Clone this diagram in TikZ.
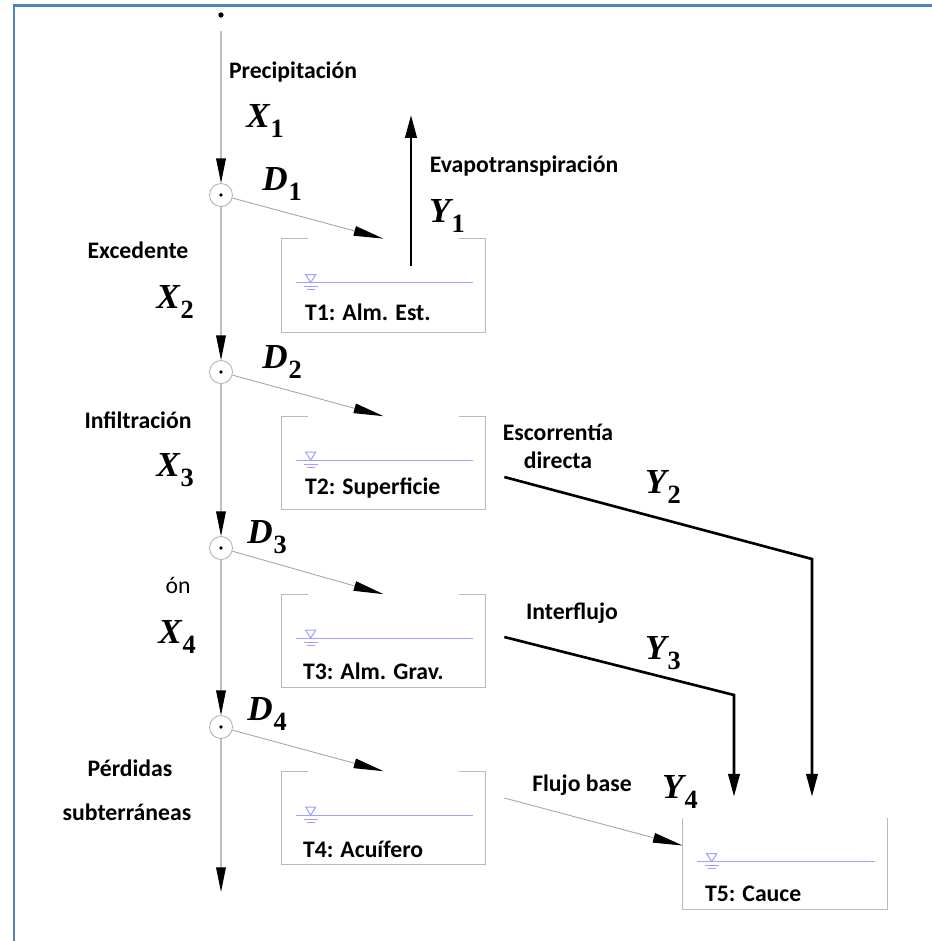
\documentclass[tikz,border=0pt]{standalone}
\usepackage{amsmath,amssymb}
\usepackage[no-math]{fontspec}
\setmainfont{Carlito}
\newfontfamily\varfont{Liberation Serif}
\usetikzlibrary{positioning,arrows.meta}
\definecolor{marco}{RGB}{79,129,189}
\definecolor{agua}{RGB}{160,160,255}

% variable con subindice
\newcommand{\vr}[2]{{\varfont\bfseries\itshape #1}\kern0.5pt\raisebox{-0.28em}{\varfont\bfseries\fontsize{15}{15}\selectfont #2}}

% tanque abierto: paredes, nivel de agua y simbolo
\newcommand{\tanque}[2][26]{%
  \draw[pared] ([shift={(#1,0)}]#2.north west) -- (#2.north west) -- (#2.south west)
    -- (#2.south east) -- (#2.north east) -- ([shift={(-#1,0)}]#2.north east);
  \draw[nivel] ([shift={(14,44)}]#2.north west) -- ([shift={(-12,44)}]#2.north east);
  \draw[nivel] ([shift={(24,36)}]#2.north west) -- ([shift={(34,36)}]#2.north west)
    -- ([shift={(29,44)}]#2.north west) -- cycle;
  \draw[nivel] ([shift={(22,48)}]#2.north west) -- ([shift={(36,48)}]#2.north west);
  \draw[nivel] ([shift={(25,51)}]#2.north west) -- ([shift={(33,51)}]#2.north west);
}

\begin{document}
\begin{tikzpicture}[x=0.02cm,y=-0.02cm,
  etiq/.style={font=\bfseries\fontsize{13.5}{16}\selectfont,inner sep=0pt},
  var/.style={font=\fontsize{20}{21}\selectfont,inner sep=0pt},
  cruce/.style={circle,draw=gray!60,line width=0.5pt,minimum size=0.46cm,inner sep=0pt,
    path picture={\fill (path picture bounding box.center) circle (1.1pt);}},
  tanque/.style={rectangle,minimum width=4.06cm,minimum height=1.86cm,inner sep=0pt},
  pared/.style={draw=gray!55,line width=0.6pt},
  nivel/.style={draw=agua,line width=0.6pt},
  bajada/.style={draw=gray!50,line width=0.6pt,-{Triangle[length=14pt,width=5.5pt,color=black]}},
  entrada/.style={draw=gray!70,line width=0.5pt,-{Triangle[length=17pt,width=5.5pt,color=black]}},
  salida/.style={draw=black,line width=1.5pt,-{Triangle[length=13pt,width=6.5pt]}}]
  \useasboundingbox (0,0) rectangle (932,941);
  \draw[marco,line width=1.7pt] (14,941) -- (14,5) -- (932,5);

  % columna de cruces
  \node[circle,fill,minimum size=3pt,inner sep=0pt] (inicio) at (221,15) {};
  \node[cruce] (c1) at (221,195) {};
  \node[cruce] (c2) at (221,372) {};
  \node[cruce] (c3) at (221,548) {};
  \node[cruce] (c4) at (221,727) {};
  \coordinate (fin) at (221,892);
  \draw[bajada,shorten <=0.26cm] (inicio) -- (c1);
  \draw[bajada] (c1) -- (c2);
  \draw[bajada] (c2) -- (c3);
  \draw[bajada] (c3) -- (c4);
  \draw[bajada] (c4) -- (fin);

  % tanques
  \node[tanque] (t1) at (383.5,285.5) {};
  \node[tanque] (t2) at (383.5,463) {};
  \node[tanque] (t3) at (383.5,641) {};
  \node[tanque] (t4) at (383.5,818) {};
  \node[tanque,minimum width=4.08cm,minimum height=1.82cm] (t5) at (785,863.5) {};
  \tanque{t1}\tanque{t2}\tanque{t3}\tanque{t4}\tanque[0]{t5}
  \node[etiq,anchor=west] (l1) at ([shift={(23,-20)}]t1.south west) {T1: Alm. Est.};
  \node[etiq,anchor=west] (l2) at ([shift={(23,-22)}]t2.south west) {T2: Superficie};
  \node[etiq,anchor=west] (l3) at ([shift={(21,-17)}]t3.south west) {T3: Alm. Grav.};
  \node[etiq,anchor=west] (l4) at ([shift={(21,-16)}]t4.south west) {T4: Acuífero};
  \node[etiq,anchor=west] (l5) at ([shift={(22,-16)}]t5.south west) {T5: Cauce};

  % entradas a los tanques
  \draw[entrada] (c1) -- (t1.north);
  \draw[entrada] (c2) -- (t2.north);
  \draw[entrada] (c3) -- (t3.north);
  \draw[entrada] (c4) -- (t4.north);

  % salidas
  \coordinate (ev0) at (411,266);
  \coordinate (ev1) at (411,115);
  \coordinate (q2) at (812,559);
  \coordinate (q3) at (734,695);
  \draw[salida] (ev0) -- (ev1);
  \draw[salida] ([shift={(19,14)}]t2.east) -- (q2) -- ([shift={(27,-21)}]t5.north);
  \draw[salida] ([shift={(19,-4)}]t3.east) -- (q3) -- ([shift={(-51,-21)}]t5.north);
  \draw[entrada] ([shift={(19,-20)}]t4.east) -- ([shift={(0,-18)}]t5.west);

  % textos
  \node[etiq] (prec) at (293,72) {Precipitación};
  \node[var] (x1) at (265,121) {\vr{X}{1}};
  \node[var] (d1) at (282,184) {\vr{D}{1}};
  \node[etiq] (evap) at (524,166) {Evapotranspiración};
  \node[var] (y1) at (447,216) {\vr{Y}{1}};
  \node[etiq] (exce) at (138,250) {Excedente};
  \node[var] (x2) at (175,302) {\vr{X}{2}};
  \node[var] (d2) at (282,362) {\vr{D}{2}};
  \node[etiq] (infi) at (138,420) {Infiltración};
  \node[var] (x3) at (175,470) {\vr{X}{3}};
  \node[var] (d3) at (267,537) {\vr{D}{3}};
  \node[font=\fontsize{13.5}{16}\selectfont,inner sep=0pt] (on) at (178,585) {ón};
  \node[var] (x4) at (177,637) {\vr{X}{4}};
  \node[var] (d4) at (267,714) {\vr{D}{4}};
  \node[etiq] (perd) at (130,768) {Pérdidas};
  \node[etiq] (subt) at (127,812) {subterráneas};
  \node[etiq,align=center] (esco) at (558,446) {Escorrentía\\ directa};
  \node[var] (y2) at (663,487) {\vr{Y}{2}};
  \node[etiq] (inte) at (572,613) {Interflujo};
  \node[var] (y3) at (663,653) {\vr{Y}{3}};
  \node[etiq] (fbas) at (582,785) {Flujo base};
  \node[var] (y4) at (680,792) {\vr{Y}{4}};
\end{tikzpicture}
\end{document}
